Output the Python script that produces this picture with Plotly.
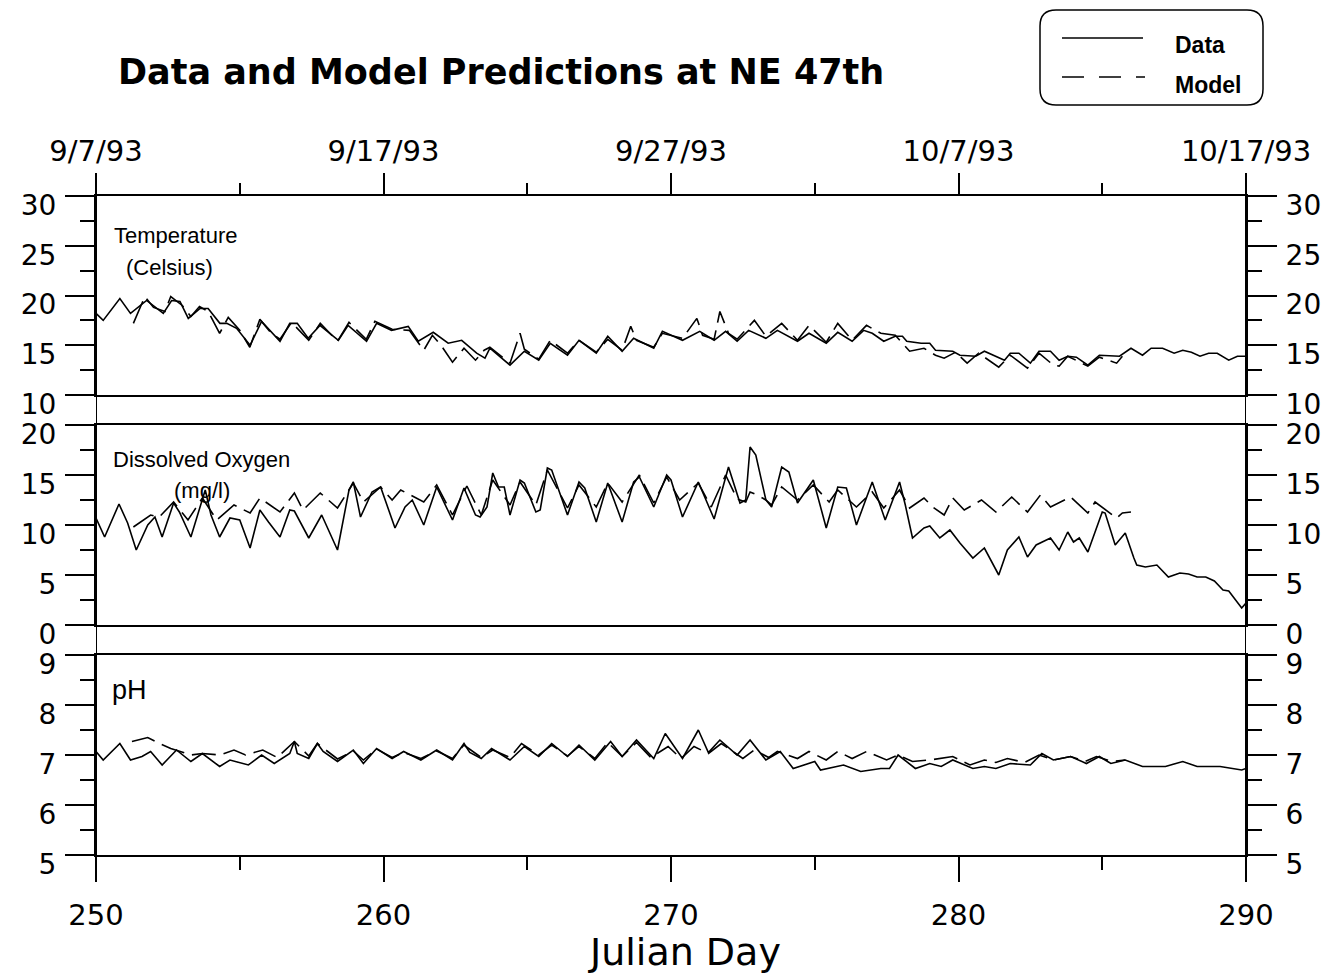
import plotly.graph_objects as go

W, H = 1336, 975

# ---------------- data ----------------
temp_data_day = [250.0, 250.25, 250.83, 251.2, 251.76, 252.34, 252.63, 252.92, 253.21, 253.62, 253.9, 254.31, 254.55, 254.89,
                 255.36, 255.76, 256.4, 256.74, 257.0, 257.38, 257.79, 258.43, 258.77, 259.41, 259.76, 260.28, 260.86, 261.21,
                 261.73, 262.25, 262.72, 263.24, 263.53, 263.7, 264.4, 264.9, 265.4, 265.8, 266.4, 266.8, 267.4, 267.8, 268.3,
                 268.7, 269.4, 269.7, 270.4, 271.0, 271.5, 271.9, 272.3, 272.7, 273.3, 273.7, 274.4, 274.8, 275.4, 275.8,
                 276.3, 276.7, 277.0, 277.4, 277.8, 278.05, 278.2, 278.7, 279.0, 279.2, 279.8, 280.05, 280.6, 280.9, 281.6,
                 281.8, 282.1, 282.5, 282.8, 283.2, 283.5, 283.8, 284.1, 284.5, 284.9, 285.6, 286.0, 286.4, 286.7, 287.1,
                 287.5, 287.8, 288.1, 288.4, 288.7, 289.0, 289.4, 289.7, 290.0]
temp_data_val = [18.2, 17.5, 19.7, 18.2, 19.5, 18.2, 19.5, 19.4, 17.7, 18.7, 18.7, 17.2, 17.2, 16.7,
                 15.0, 17.4, 15.4, 17.2, 17.2, 15.7, 17.0, 15.5, 17.0, 15.4, 17.2, 16.5, 16.9, 15.4,
                 16.3, 15.2, 15.5, 14.2, 13.7, 14.7, 13.0, 14.4, 13.5, 15.2, 14.0, 15.5, 14.2, 15.9, 14.4,
                 15.7, 14.7, 16.4, 15.5, 16.4, 15.5, 16.4, 15.4, 16.5, 15.7, 16.5, 15.4, 16.2, 15.2, 16.3,
                 15.4, 16.5, 16.2, 15.4, 15.9, 15.9, 15.4, 15.2, 15.2, 14.5, 14.4, 14.0, 13.9, 14.4, 13.5,
                 14.2, 14.2, 13.2, 14.4, 14.4, 13.5, 13.9, 13.8, 13.0, 14.0, 13.9, 14.7, 14.0, 14.7, 14.7,
                 14.2, 14.5, 14.3, 13.9, 14.2, 14.2, 13.5, 13.9, 13.9]

temp_model_day = [251.3, 251.7, 252.0, 252.4, 252.6, 253.0, 253.3, 253.6, 253.9, 254.3, 254.6, 255.0, 255.35, 255.7,
                  256.1, 256.4, 256.8, 257.4, 257.8, 258.4, 258.8, 259.4, 259.7, 260.3, 260.9, 261.4, 261.7, 262.0,
                  262.4, 262.8, 263.2, 263.5, 263.7, 264.4, 264.75, 264.9, 265.4, 265.8, 266.4, 266.8, 267.4, 267.8,
                  268.3, 268.6, 268.8, 269.4, 269.7, 270.4, 270.9, 271.1, 271.5, 271.7, 272.0, 272.3, 272.9, 273.3,
                  273.85, 274.4, 274.8, 275.4, 275.8, 276.3, 276.8, 277.3, 277.8, 278.3, 278.8, 279.2, 279.5, 279.9,
                  280.3, 280.7, 281.4, 281.8, 282.4, 282.8, 283.3, 283.5, 283.8, 284.5, 284.9, 285.5, 285.7]
temp_model_val = [17.2, 19.9, 18.8, 18.4, 19.9, 19.0, 17.9, 18.9, 18.4, 16.2, 17.8, 16.5, 14.8, 17.6,
                  16.2, 15.6, 17.3, 15.5, 17.2, 15.4, 17.3, 15.6, 17.4, 16.6, 16.5, 14.5, 16.0, 15.0,
                  13.3, 14.7, 13.5, 14.5, 14.8, 13.2, 16.2, 14.6, 13.6, 15.5, 14.2, 15.5, 14.3, 15.6,
                  14.5, 16.9, 15.5, 14.8, 16.2, 15.7, 17.7, 16.0, 15.6, 18.4, 16.2, 15.6, 17.5, 15.9,
                  17.2, 15.5, 17.0, 15.3, 17.2, 15.5, 17.0, 16.2, 16.0, 14.4, 14.7, 14.0, 13.7, 14.3,
                  13.2, 14.2, 12.8, 14.0, 12.7, 14.2, 13.0, 12.9, 13.9, 12.9, 13.8, 13.2, 13.9]

do_data_day = [250.0, 250.3, 250.8, 251.1, 251.4, 251.8, 252.05, 252.3, 252.7, 252.9, 253.3, 253.8, 254.0, 254.3, 254.66,
               255.0, 255.36, 255.7, 256.0, 256.4, 256.74, 256.9, 257.4, 257.85, 258.4, 258.8, 258.95, 259.2, 259.6,
               259.9, 260.4, 260.75, 261.0, 261.4, 261.85, 262.4, 262.8, 263.2, 263.36, 263.6, 263.8, 264.0, 264.2,
               264.4, 264.75, 264.9, 265.3, 265.45, 265.7, 265.85, 266.4, 266.8, 267.0, 267.4, 267.8, 268.3, 268.7,
               268.9, 269.4, 269.85, 270.0, 270.4, 270.95, 271.5, 272.0, 272.4, 272.6, 272.75, 272.95, 273.3, 273.5,
               273.85, 274.1, 274.4, 274.95, 275.4, 275.8, 276.1, 276.45, 277.0, 277.45, 277.7, 277.95, 278.15, 278.4,
               278.8, 279.0, 279.35, 279.7, 280.05, 280.5, 280.9, 281.4, 281.7, 282.1, 282.4, 282.7, 283.2, 283.5,
               283.8, 284.0, 284.2, 284.5, 285.0, 285.1, 285.45, 285.8, 286.1, 286.2, 286.5, 286.9, 287.3, 287.7,
               288.0, 288.3, 288.6, 288.9, 289.2, 289.4, 289.85, 290.0]
do_data_val = [10.7, 8.8, 12.1, 10.2, 7.5, 10.0, 10.8, 8.8, 12.2, 11.3, 8.8, 13.5, 11.0, 8.8, 10.7,
               10.5, 7.7, 11.5, 10.3, 8.8, 11.5, 11.4, 8.7, 11.0, 7.5, 13.5, 14.3, 10.8, 13.3,
               13.8, 9.7, 11.8, 12.5, 10.0, 13.8, 10.5, 13.7, 11.0, 10.8, 11.8, 15.2, 13.8, 13.8,
               11.0, 14.5, 14.2, 11.3, 11.5, 15.7, 15.5, 11.0, 14.3, 13.7, 10.3, 14.2, 10.3, 14.3,
               14.8, 11.8, 15.0, 14.5, 10.8, 14.3, 10.6, 15.8, 12.2, 12.5, 17.8, 17.0, 12.5, 11.8,
               15.8, 15.3, 12.2, 14.5, 9.7, 13.8, 13.7, 10.0, 14.3, 10.5, 12.5, 14.3, 12.0, 8.7,
               9.7, 9.9, 8.7, 9.5, 8.2, 6.7, 7.7, 5.0, 7.5, 8.8, 6.8, 8.0, 8.7, 7.5,
               9.3, 8.3, 8.7, 7.3, 11.3, 11.2, 8.0, 9.2, 6.7, 6.0, 5.8, 6.0, 4.8, 5.2,
               5.1, 4.8, 4.8, 4.4, 3.5, 3.4, 1.7, 2.2]

do_model_day = [251.3, 251.9, 252.2, 252.7, 253.2, 253.7, 254.2, 254.8, 255.36, 255.7, 256.4, 256.9, 257.2, 257.8,
                258.4, 258.95, 259.3, 259.9, 260.3, 260.6, 261.4, 261.85, 262.4, 262.9, 263.4, 263.8, 264.4, 264.75,
                265.3, 265.7, 266.4, 266.8, 267.4, 267.8, 268.3, 268.9, 269.4, 269.85, 270.3, 270.95, 271.4, 271.9,
                272.3, 272.6, 272.75, 273.0, 273.3, 273.5, 273.85, 274.4, 274.95, 275.5, 275.8, 276.45, 277.0, 277.4,
                277.95, 278.3, 278.8, 279.1, 279.5, 279.8, 280.2, 280.8, 281.3, 281.85, 282.4, 282.85, 283.2, 283.9,
                284.5, 284.75, 285.5, 285.7, 286.0]
do_model_val = [9.8, 11.0, 10.8, 12.3, 10.5, 12.7, 10.5, 12.0, 11.2, 12.7, 11.3, 13.2, 11.5, 13.2,
                11.7, 14.2, 12.3, 13.8, 12.5, 13.5, 12.3, 14.0, 11.0, 13.9, 11.0, 14.5, 12.0, 14.3,
                12.0, 15.5, 11.7, 14.0, 11.8, 14.2, 12.3, 15.0, 12.2, 14.8, 12.5, 14.2, 11.8, 15.0,
                12.6, 12.3, 13.3, 13.0, 12.5, 12.0, 13.8, 12.5, 14.0, 12.3, 13.5, 11.8, 13.3, 11.7,
                13.5, 11.7, 12.7, 11.8, 11.0, 12.7, 11.5, 12.5, 11.3, 12.8, 11.3, 13.0, 11.8, 12.8,
                11.2, 12.3, 10.7, 11.2, 11.3]

ph_data_day = [250.0, 250.25, 250.83, 251.2, 251.6, 251.9, 252.3, 252.8, 253.3, 253.7, 254.3, 254.66, 255.3, 255.76,
               256.2, 256.74, 256.9, 257.0, 257.4, 257.7, 257.9, 258.4, 258.95, 259.3, 259.76, 260.3, 260.7, 261.3,
               261.85, 262.4, 262.8, 263.0, 263.4, 263.76, 264.4, 264.9, 265.4, 265.85, 266.4, 266.8, 267.35, 267.9,
               268.3, 268.8, 269.4, 269.8, 270.4, 270.95, 271.3, 271.7, 272.3, 272.75, 273.3, 273.8, 274.25, 275.0,
               275.2, 276.0, 276.6, 277.3, 277.6, 277.9, 278.5, 279.0, 279.4, 279.8, 280.5, 280.9, 281.3, 281.8,
               282.5, 282.9, 283.3, 283.9, 284.45, 284.9, 285.3, 285.8, 286.4, 287.2, 287.8, 288.3, 289.1, 289.85, 290.0]
ph_data_val = [7.07, 6.9, 7.23, 6.9, 6.97, 7.07, 6.8, 7.1, 6.87, 7.03, 6.77, 6.9, 6.8, 7.0,
               6.83, 7.03, 7.27, 7.03, 6.93, 7.23, 7.07, 6.87, 7.1, 6.83, 7.13, 6.93, 7.07, 6.9,
               7.1, 6.9, 7.23, 7.05, 6.93, 7.13, 6.9, 7.17, 6.97, 7.23, 6.97, 7.2, 6.9, 7.27,
               6.97, 7.3, 6.93, 7.43, 6.93, 7.5, 7.05, 7.3, 7.0, 7.3, 6.9, 7.07, 6.73, 6.87,
               6.7, 6.8, 6.67, 6.73, 6.73, 7.0, 6.73, 6.83, 6.77, 6.9, 6.73, 6.77, 6.73, 6.83,
               6.8, 7.03, 6.9, 6.97, 6.83, 6.97, 6.83, 6.9, 6.77, 6.77, 6.87, 6.77, 6.77, 6.7, 6.73]

ph_model_day = [251.25, 251.8, 252.2, 252.6, 253.3, 253.7, 254.3, 254.8, 255.2, 255.8, 256.3, 256.9, 257.4, 257.7,
                258.4, 258.95, 259.3, 259.76, 260.3, 260.7, 261.3, 261.85, 262.4, 262.8, 263.4, 263.8, 264.4, 264.8,
                265.4, 265.85, 266.4, 266.8, 267.35, 267.8, 268.3, 268.8, 269.3, 269.9, 270.35, 270.8, 271.3, 271.75,
                272.5, 272.9, 273.4, 273.7, 274.4, 274.8, 275.4, 275.8, 276.3, 276.8, 277.5, 277.9, 278.4, 279.0,
                279.8, 280.4, 280.9, 281.3, 281.7, 282.3, 282.8, 283.3, 283.9, 284.4, 284.8, 285.35, 285.8]
ph_model_val = [7.27, 7.35, 7.23, 7.13, 7.0, 7.03, 7.0, 7.1, 7.0, 7.1, 6.95, 7.27, 6.98, 7.23,
                6.92, 7.08, 6.9, 7.12, 6.95, 7.05, 6.93, 7.08, 6.93, 7.2, 6.95, 7.1, 6.95, 7.23,
                7.0, 7.2, 6.98, 7.17, 6.93, 7.25, 6.97, 7.25, 6.95, 7.17, 6.93, 7.17, 7.03, 7.23,
                6.93, 7.1, 6.95, 7.07, 6.93, 7.07, 6.9, 7.07, 6.93, 7.07, 6.9, 7.0, 6.87, 6.9,
                6.97, 6.8, 6.9, 6.85, 6.93, 6.85, 7.0, 6.9, 6.97, 6.87, 6.97, 6.87, 6.9]

day_ticks = [250, 260, 270, 280, 290]
day_minor = [255, 265, 275, 285]
date_labels = ["9/7/93", "9/17/93", "9/27/93", "10/7/93", "10/17/93"]
temp_ticks = [10, 15, 20, 25, 30]
temp_minor = [12.5, 17.5, 22.5, 27.5]
do_ticks = [0, 5, 10, 15, 20]
do_minor = [2.5, 7.5, 12.5, 17.5]
ph_ticks = [5, 6, 7, 8, 9]
ph_minor = [5.5, 6.5, 7.5, 8.5]

# ---------------- layout helpers ----------------
def fx(p):
    return p / W

def fy(p):
    return 1 - p / H

XD = [fx(96), fx(1246)]
D1 = [fy(395), fy(196)]
D2 = [fy(625), fy(425)]
D3 = [fy(855), fy(655)]

TICKFONT = dict(family="DejaVu Sans", size=28, color="black")
solid = dict(color="black", width=1.6)
dashed = dict(color="black", width=1.6, dash="24px,8px")

fig = go.Figure()
series = [
    (temp_data_day, temp_data_val, solid, "x", "y", "Data"),
    (temp_model_day, temp_model_val, dashed, "x", "y", "Model"),
    (do_data_day, do_data_val, solid, "x2", "y2", "Data"),
    (do_model_day, do_model_val, dashed, "x2", "y2", "Model"),
    (ph_data_day, ph_data_val, solid, "x3", "y3", "Data"),
    (ph_model_day, ph_model_val, dashed, "x3", "y3", "Model"),
]
for xs, ys, ln, xa, ya, nm in series:
    fig.add_trace(go.Scatter(x=xs, y=ys, mode="lines", line=ln, xaxis=xa, yaxis=ya,
                             name=nm, showlegend=False, hoverinfo="skip"))

# invisible companions so that the right-hand value axes are drawn
for xs, ys, xa, ya in [(temp_data_day, temp_data_val, "x", "y4"),
                       (do_data_day, do_data_val, "x2", "y5"),
                       (ph_data_day, ph_data_val, "x3", "y6")]:
    fig.add_trace(go.Scatter(x=xs, y=ys, mode="lines", line=dict(color="rgba(0,0,0,0)", width=0),
                             xaxis=xa, yaxis=ya, showlegend=False, hoverinfo="skip"))

axline = dict(showline=True, linecolor="black", linewidth=2, showgrid=False, zeroline=False, automargin=False)

def xax(**kw):
    d = dict(domain=XD, range=[250, 290], **axline)
    d.update(kw)
    return d

def yax(rng, ticks, minor, domain, anchor, **kw):
    d = dict(domain=domain, range=rng, tickvals=ticks, ticktext=[str(t) for t in ticks],
             ticks="outside", ticklen=29, tickwidth=2, tickcolor="black",
             minor=dict(tickvals=minor, ticks="outside", ticklen=14, tickwidth=2, tickcolor="black"),
             tickfont=TICKFONT, ticklabelshift=9, ticklabelstandoff=3, anchor=anchor, **axline)
    d.update(kw)
    return d

fig.update_layout(
    width=W, height=H,
    margin=dict(l=0, r=0, t=0, b=0),
    paper_bgcolor="white", plot_bgcolor="white",
    showlegend=False,
    xaxis=xax(anchor="y", side="top", mirror=True, tickvals=day_ticks, ticktext=date_labels,
              ticks="outside", ticklen=21, tickwidth=2, tickcolor="black",
              tickfont=dict(family="DejaVu Sans", size=29, color="black"),
              ticklabelstandoff=0,
              minor=dict(tickvals=day_minor, ticks="outside", ticklen=11, tickwidth=2, tickcolor="black")),
    xaxis2=xax(anchor="y2", matches="x", mirror=True, showticklabels=False, ticks=""),
    xaxis3=xax(anchor="y3", matches="x", mirror=True, tickvals=day_ticks, ticktext=[str(t) for t in day_ticks],
               ticks="outside", ticklen=25, tickwidth=2, tickcolor="black",
               tickfont=dict(family="DejaVu Sans", size=29, color="black"),
               ticklabelstandoff=8,
               minor=dict(tickvals=day_minor, ticks="outside", ticklen=13, tickwidth=2, tickcolor="black")),
    yaxis=yax([10, 30], temp_ticks, temp_minor, D1, "x"),
    yaxis2=yax([0, 20], do_ticks, do_minor, D2, "x2"),
    yaxis3=yax([5, 9], ph_ticks, ph_minor, D3, "x3"),
    yaxis4=yax([10, 30], temp_ticks, temp_minor, D1, "x", overlaying="y", side="right"),
    yaxis5=yax([0, 20], do_ticks, do_minor, D2, "x2", overlaying="y2", side="right"),
    yaxis6=yax([5, 9], ph_ticks, ph_minor, D3, "x3", overlaying="y3", side="right"),
)

# continuous vertical frame lines at both ends of the day axis
for d in (250, 290):
    fig.add_shape(type="line", xref="x", yref="paper", x0=d, x1=d, y0=fy(880), y1=fy(175),
                  line=dict(color="black", width=2))

# axis title
fig.add_annotation(text="Julian Day", xref="paper", yref="paper", x=fx(684), y=fy(952), showarrow=False,
                   xanchor="center", yanchor="middle",
                   font=dict(family="DejaVu Sans", size=38, color="black"))

# title
fig.add_annotation(text="<b>Data and Model Predictions at NE 47th</b>", xref="paper", yref="paper",
                   x=fx(501), y=fy(72), showarrow=False, xanchor="center", yanchor="middle",
                   font=dict(family="DejaVu Sans", size=35, color="black"))

# panel labels
lab = dict(family="Liberation Sans", size=22, color="black")
for txt, x, y, f in [("Temperature", 112, 236, lab), ("(Celsius)", 124, 267, lab),
                     ("Dissolved Oxygen", 111, 459, lab), ("(mg/l)", 172, 490, lab),
                     ("pH", 110, 690, dict(family="Liberation Sans", size=27, color="black"))]:
    fig.add_annotation(text=txt, xref="paper", yref="paper", x=fx(x), y=fy(y), showarrow=False,
                       xanchor="left", yanchor="middle", font=f)

# legend box (rounded)
x0, x1, y0, y1, r = 1040, 1263, 10, 105, 16
path = (f"M {fx(x0 + r)},{fy(y0)} L {fx(x1 - r)},{fy(y0)} Q {fx(x1)},{fy(y0)} {fx(x1)},{fy(y0 + r)} "
        f"L {fx(x1)},{fy(y1 - r)} Q {fx(x1)},{fy(y1)} {fx(x1 - r)},{fy(y1)} "
        f"L {fx(x0 + r)},{fy(y1)} Q {fx(x0)},{fy(y1)} {fx(x0)},{fy(y1 - r)} "
        f"L {fx(x0)},{fy(y0 + r)} Q {fx(x0)},{fy(y0)} {fx(x0 + r)},{fy(y0)} Z")
fig.add_shape(type="path", path=path, xref="paper", yref="paper", line=dict(color="black", width=1.5))
fig.add_shape(type="line", xref="paper", yref="paper", x0=fx(1062), x1=fx(1143), y0=fy(38), y1=fy(38),
              line=dict(color="black", width=1.5))
fig.add_shape(type="line", xref="paper", yref="paper", x0=fx(1062), x1=fx(1145), y0=fy(77), y1=fy(77),
              line=dict(color="black", width=1.5, dash="22px,15px"))
for txt, y in [("Data", 45), ("Model", 85)]:
    fig.add_annotation(text=f"<b>{txt}</b>", xref="paper", yref="paper", x=fx(1173), y=fy(y), showarrow=False,
                       xanchor="left", yanchor="middle", font=dict(family="Liberation Sans", size=23, color="black"))

fig.write_html("out.html")
